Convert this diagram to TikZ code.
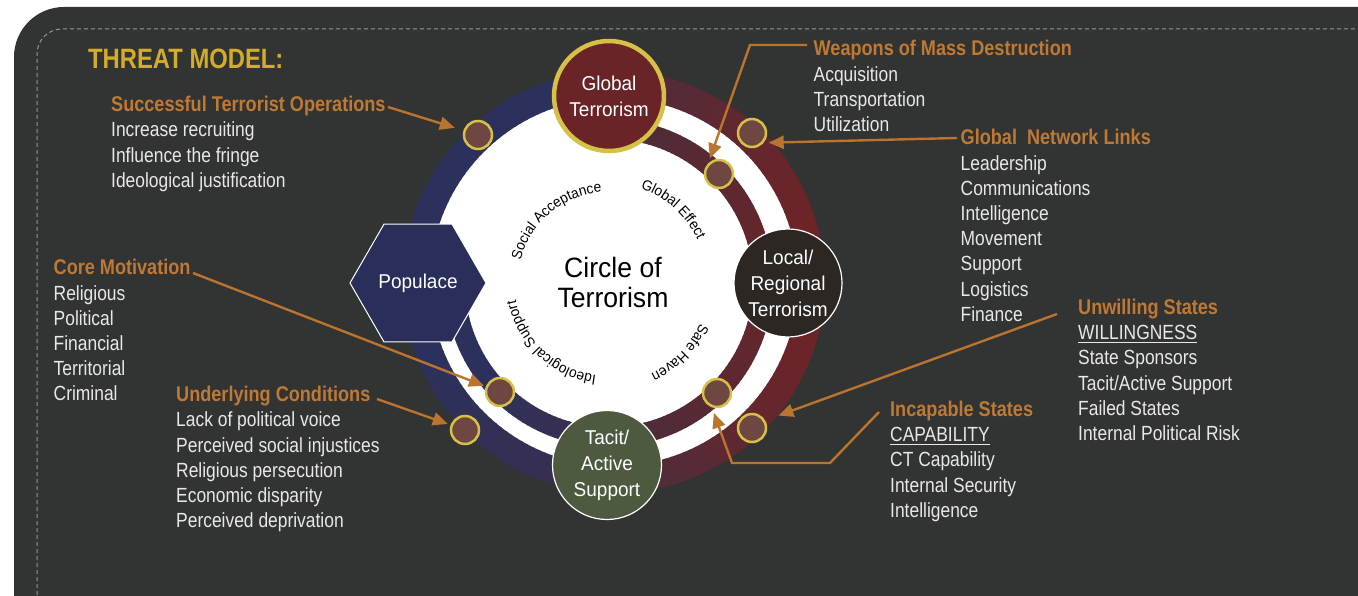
\documentclass[tikz,border=0pt]{standalone}
\usepackage{fontspec}
\setmainfont{Liberation Sans}[FakeStretch=0.85]
\newfontfamily\nodefont{Liberation Sans}[FakeStretch=0.95]
\usetikzlibrary{arrows.meta,calc,shapes.geometric,decorations.text}
\definecolor{bg}{RGB}{50,51,51}
\definecolor{dashc}{RGB}{150,150,150}
\definecolor{rblue}{RGB}{43,49,92}
\definecolor{rpurp}{RGB}{60,46,78}
\definecolor{rplum}{RGB}{74,46,62}
\definecolor{rred}{RGB}{110,36,40}
\definecolor{iplum}{RGB}{70,46,60}
\definecolor{ired}{RGB}{100,38,44}
\definecolor{gred}{RGB}{106,36,39}
\definecolor{goldc}{RGB}{214,192,70}
\definecolor{localc}{RGB}{44,39,35}
\definecolor{tacitc}{RGB}{78,90,63}
\definecolor{popc}{RGB}{41,47,90}
\definecolor{markc}{RGB}{110,70,66}
\definecolor{arrowc}{RGB}{186,116,46}
\definecolor{headc}{RGB}{190,122,52}
\definecolor{titlec}{RGB}{210,172,42}
\definecolor{txtc}{RGB}{232,232,232}
\newcommand\hd[1]{{\bfseries\color{headc}\fontsize{21.3}{25.2}\selectfont #1}}
\newcommand\myul[1]{\setbox0\hbox{#1}\rlap{\rule[-3.5pt]{\wd0}{1.6pt}}\box0}
\newcommand\arcfont{\nodefont\fontsize{14.5}{17}\selectfont}
\begin{document}
\begin{tikzpicture}[x=1pt,y=1pt,
  dashborder/.style={draw=dashc, line width=1pt, dash pattern=on 4pt off 3pt},
  gnode/.style={circle, inner sep=0pt, align=center, text=white, font=\nodefont\fontsize{20}{26}\selectfont},
  marker/.style={circle, minimum size=28pt, inner sep=0pt, fill=markc, draw=goldc, line width=2.5pt},
  arr/.style={draw=arrowc, line width=2.4pt, -{Triangle[length=15pt,width=13pt]}},
  txt/.style={anchor=base west, inner sep=0pt, text=txtc, font=\fontsize{20.5}{25.2}\selectfont},
  arctext/.style={decorate, decoration={text along path, text align=center, text={|\arcfont|#1}}}
]
\useasboundingbox (0,0) rectangle (1358,-596);
\fill[white] (0,0) rectangle (1358,-596);
\fill[bg, rounded corners=50pt] (14,-700) rectangle (1420,-7);
\draw[dashborder, rounded corners=25pt] (37,-700) |- (1420,-29);

\coordinate (C) at (608,-282);
\coordinate (C2) at (614,-282);
\coordinate (C3) at (609,-283);
\fill[white] (C2) circle[radius=185];

% outer ring
\foreach \a in {90,92,...,268}{
  \pgfmathtruncatemacro\p{\a<=200 ? 100 : (270-\a)/70*100}
  \draw[line width=27pt, draw=rblue!\p!rpurp] ($(C2)+(\a:197.5)$) arc[start angle=\a, end angle=\a+2.4, radius=197.5];
}
\foreach \a in {-90,-88,...,88}{
  \pgfmathtruncatemacro\p{100*cos(\a)}
  \draw[line width=27pt, draw=rred!\p!rplum] ($(C2)+(\a:197.5)$) arc[start angle=\a, end angle=\a+2.4, radius=197.5];
}
% inner ring
\foreach \a in {-90,-88,...,88}{
  \pgfmathtruncatemacro\p{100*cos(\a)}
  \draw[line width=20pt, draw=ired!\p!iplum] ($(C3)+(\a:154)$) arc[start angle=\a, end angle=\a+2.4, radius=154];
}
\foreach \a in {180,182,...,268}{
  \pgfmathtruncatemacro\p{\a<=215 ? 100 : (270-\a)/55*100}
  \draw[line width=20pt, draw=rblue!\p!rpurp] ($(C3)+(\a:154)$) arc[start angle=\a, end angle=\a+2.4, radius=154];
}

% arc labels
\path[arctext={Social Acceptance}] ($(C)+(170:90)$) arc[start angle=170, end angle=90, radius=90];
\path[arctext={Global Effect}] ($(C)+(80:99)$) arc[start angle=80, end angle=16, radius=99];
\path[arctext={Safe Haven}] ($(C)+(-5:101)$) arc[start angle=-5, end angle=-84, radius=101];
\path[arctext={Ideological Support}] ($(C)+(-88:94)$) arc[start angle=-88, end angle=-178, radius=94];

\node[align=center, font=\nodefont\fontsize{28}{29.5}\selectfont] (ctr) at (613,-282.5) {Circle of\\Terrorism};

% main nodes
\node[gnode, minimum size=110pt, fill=gred, draw=goldc, line width=4.5pt] (glob) at (609,-96) {Global\\Terrorism};
\node[gnode, minimum size=108pt, fill=localc, draw=white, line width=1.2pt] (loc) at (788,-283) {Local/\\Regional\\Terrorism};
\node[gnode, minimum size=109pt, fill=tacitc, draw=white, line width=1.2pt] (tac) at (607,-465) {Tacit/\\Active\\Support};
\node[gnode, regular polygon, regular polygon sides=6, minimum size=136pt, fill=popc, draw=white, line width=1pt] (pop) at (418,-283) {Populace};

% markers
\node[marker] (m_ul) at (478,-135) {};
\node[marker] (m_ur) at (752,-133) {};
\node[marker] (m_ll) at (465,-430) {};
\node[marker] (m_lr) at (752,-428) {};
\node[marker] (m_ge) at (719,-174) {};
\node[marker] (m_sh) at (717,-393) {};
\node[marker] (m_il) at (500,-392) {};

% text blocks
\node[anchor=base west, inner sep=0pt, text=titlec, font=\bfseries\fontsize{28}{30}\selectfont] (title) at (88,-68.3) {THREAT MODEL:};
\node[txt] (t_sto) at (111,-111.7) {\begin{tabular}[t]{@{}l@{}}\hd{Successful Terrorist Operations}\\Increase recruiting\\Influence the fringe\\Ideological justification\end{tabular}};
\node[txt] (t_core) at (53.5,-275) {\begin{tabular}[t]{@{}l@{}}\hd{Core Motivation}\\Religious\\Political\\Financial\\Territorial\\Criminal\end{tabular}};
\node[txt] (t_und) at (176,-401.7) {\begin{tabular}[t]{@{}l@{}}\hd{Underlying Conditions}\\Lack of political voice\\Perceived social injustices\\Religious persecution\\Economic disparity\\Perceived deprivation\end{tabular}};
\node[txt] (t_wmd) at (813.5,-56) {\begin{tabular}[t]{@{}l@{}}\hd{Weapons of Mass Destruction}\\Acquisition\\Transportation\\Utilization\end{tabular}};
\node[txt] (t_gnl) at (960.5,-145) {\begin{tabular}[t]{@{}l@{}}\hd{Global~~Network Links}\\Leadership\\Communications\\Intelligence\\Movement\\Support\\Logistics\\Finance\end{tabular}};
\node[txt] (t_unw) at (1078,-314.5) {\begin{tabular}[t]{@{}l@{}}\hd{Unwilling States}\\\myul{WILLINGNESS}\\State Sponsors\\Tacit/Active Support\\Failed States\\Internal Political Risk\end{tabular}};
\node[txt] (t_inc) at (890,-416.5) {\begin{tabular}[t]{@{}l@{}}\hd{Incapable States}\\\myul{CAPABILITY}\\CT Capability\\Internal Security\\Intelligence\end{tabular}};

% connectors
\coordinate (s_sto) at (388,-107);
\coordinate (s_core) at (193,-273);
\coordinate (s_und) at (377,-399);
\coordinate (s_wmd1) at (807,-45);
\coordinate (s_wmd2) at (750,-45);
\coordinate (s_gnl) at (957,-138);
\coordinate (s_unw) at (1057,-314);
\coordinate (s_inc1) at (879,-412);
\coordinate (s_inc2) at (830,-463);
\coordinate (s_inc3) at (732,-463);
\draw[arr, shorten >=9pt] (s_sto) -- (m_ul);
\draw[arr, shorten >=2pt] (s_core) -- (m_il);
\draw[arr, shorten >=3pt] (s_und) -- (m_ll);
\draw[arr, shorten >=5pt] (s_wmd1) -- (s_wmd2) -- (m_ge.135);
\draw[arr, shorten >=5pt] (s_gnl) -- (m_ur.-40);
\draw[arr, shorten >=14pt] (s_unw) -- (m_lr.30);
\draw[arr, shorten >=6pt] (s_inc1) -- (s_inc2) -- (s_inc3) -- (m_sh.250);
\end{tikzpicture}
\end{document}
